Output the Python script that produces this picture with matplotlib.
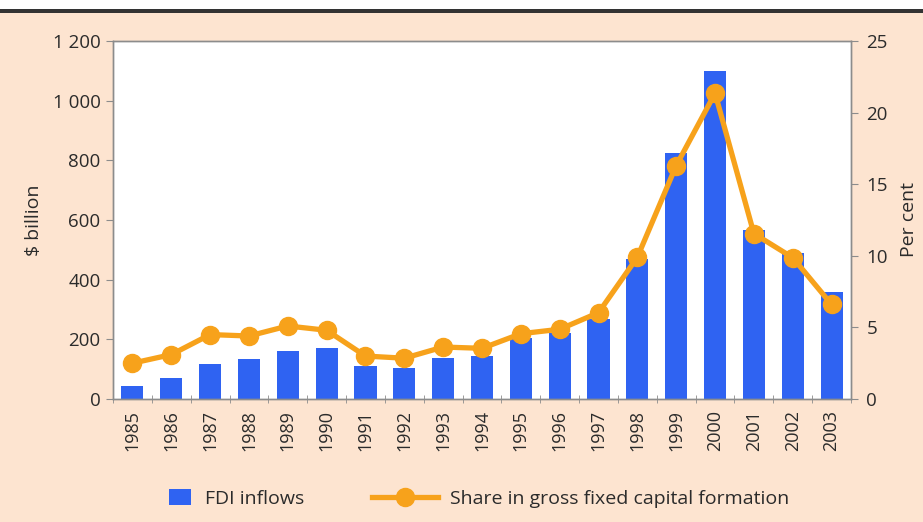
import matplotlib
matplotlib.use("Agg")
import matplotlib.pyplot as plt
from matplotlib.patches import Patch, Rectangle
from matplotlib.lines import Line2D
from matplotlib.ticker import FuncFormatter, FixedLocator

BG = "#fde4d0"
BLUE = "#2f63f2"
ORANGE = "#f7a21b"
SPINE = "#8c8c8c"
TEXT = "#2b2b2b"

plt.rcParams["font.family"] = ["Open Sans", "DejaVu Sans"]

years = [str(y) for y in range(1985, 2004)]
fdi_inflows = [44, 71, 117, 133, 161, 172, 111, 105, 138, 144,
               203, 220, 268, 468, 824, 1100, 565, 489, 360]
share_gfcf = [2.5, 3.1, 4.5, 4.4, 5.1, 4.8, 3.0, 2.85, 3.63, 3.54,
              4.56, 4.87, 6.03, 9.9, 16.3, 21.35, 11.55, 9.87, 6.6]

fig = plt.figure(figsize=(9.23, 5.22), dpi=100)
fig.patch.set_facecolor(BG)

# white strip + dark rule along the top edge
fig.patches.append(Rectangle((0, 0.981), 1, 0.019, transform=fig.transFigure,
                             facecolor="white", edgecolor="none", zorder=0))
fig.patches.append(Rectangle((0, 0.975), 1, 0.007, transform=fig.transFigure,
                             facecolor="#333333", edgecolor="none", zorder=1))

ax = fig.add_axes([0.1224, 0.2356, 0.7996, 0.6859])
ax.set_facecolor("white")
x = list(range(len(years)))
ax.bar(x, fdi_inflows, width=0.57, color=BLUE, zorder=2)
ax.set_xlim(-0.5, len(years) - 0.5)
ax.set_ylim(0, 1200)
ax.set_yticks(range(0, 1201, 200))
ax.yaxis.set_major_formatter(FuncFormatter(lambda v, p: f"{v:,.0f}".replace(",", " ")))
ax.set_ylabel("$ billion", fontsize=14, color=TEXT, labelpad=7)

ax.set_xticks(x)
ax.set_xticklabels(years, rotation=90, fontsize=13, color=TEXT)
ax.tick_params(axis="x", which="major", length=0, pad=8)
ax.xaxis.set_minor_locator(FixedLocator([i + 0.5 for i in range(-1, len(years))]))
ax.tick_params(axis="x", which="minor", direction="inout", length=6, color=SPINE)
ax.tick_params(axis="y", direction="out", length=5, color=SPINE, labelsize=13.5,
               labelcolor=TEXT, pad=4)

for s in ax.spines.values():
    s.set_color(SPINE)
    s.set_linewidth(1.0)

ax2 = ax.twinx()
ax2.plot(x, share_gfcf, color=ORANGE, lw=3.8, marker="o", ms=13,
         mfc=ORANGE, mec=ORANGE, zorder=3, clip_on=False)
ax2.set_ylim(0, 25)
ax2.set_yticks(range(0, 26, 5))
ax2.tick_params(axis="y", direction="out", length=5, color=SPINE, labelsize=13.5,
                labelcolor=TEXT, pad=6)
ax2.set_ylabel("Per cent", fontsize=14, color=TEXT, labelpad=9)
for s in ax2.spines.values():
    s.set_color(SPINE)
    s.set_linewidth(1.0)

# legend: two separate entries placed along the bottom
bar_handle = Patch(facecolor=BLUE, edgecolor="none")
line_handle = Line2D([0], [0], color=ORANGE, lw=3.8, marker="o", ms=13)
fig.legend([bar_handle], ["FDI inflows"], loc="center left",
           bbox_to_anchor=(169 / 923, 0.045), frameon=False, fontsize=14,
           labelcolor=TEXT, handlelength=1.13, handleheight=0.88,
           handletextpad=0.72, borderpad=0, borderaxespad=0)
fig.legend([line_handle], ["Share in gross fixed capital formation"],
           loc="center left", bbox_to_anchor=(372 / 923, 0.045),
           frameon=False, fontsize=14, labelcolor=TEXT, handlelength=3.4,
           handletextpad=0.62, borderpad=0, borderaxespad=0)

fig.savefig("out.png", dpi=100, facecolor=BG)
